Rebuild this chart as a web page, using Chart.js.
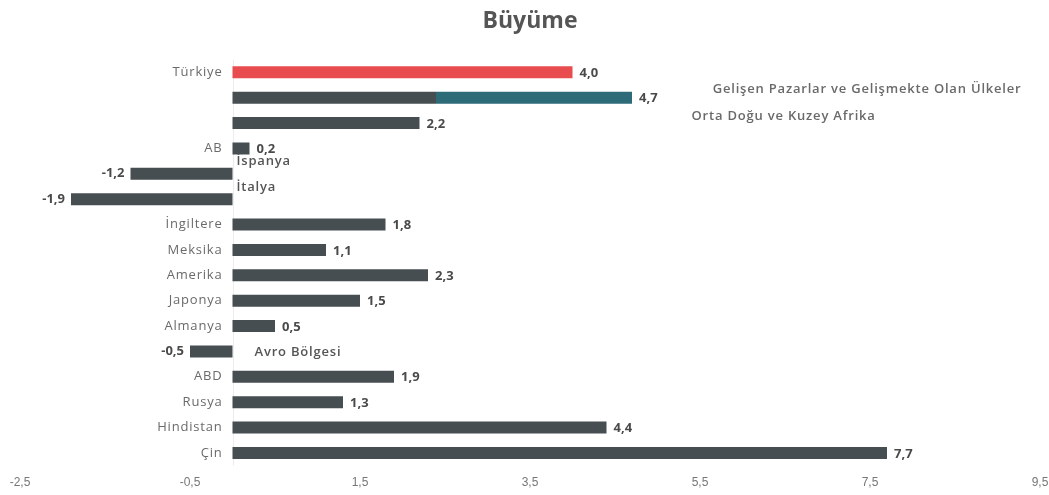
<!DOCTYPE html>
<html lang="tr">
<head>
<meta charset="utf-8">
<title>Büyüme</title>
<script src="https://cdn.jsdelivr.net/npm/chart.js@4/dist/chart.umd.min.js"></script>
<style>
  html, body { margin: 0; padding: 0; background: #fff; }
  #wrap { width: 1049px; height: 495px; }
</style>
</head>
<body>
<div id="wrap"><canvas id="graph"></canvas></div>
<script>
var countries = ["Türkiye", "Gelişen Pazarlar ve Gelişmekte Olan Ülkeler", "Orta Doğu ve Kuzey Afrika",
  "AB", "İspanya", "İtalya", "İngiltere", "Meksika", "Amerika", "Japonya", "Almanya",
  "Avro Bölgesi", "ABD", "Rusya", "Hindistan", "Çin"];
var growth = [4.0, 4.7, 2.2, 0.2, -1.2, -1.9, 1.8, 1.1, 2.3, 1.5, 0.5, -0.5, 1.9, 1.3, 4.4, 7.7];
var xTicks = [-2.5, -0.5, 1.5, 3.5, 5.5, 7.5, 9.5];
var emergingTealFrom = 2.4;

var DARK = "#474e52";
var RED = "#e84c4f";
var TEAL = "#2e6b78";
var LABEL_FONT = "'Open Sans', 'DejaVu Sans', sans-serif";

function comma(v) {
  return String(v.toFixed(1)).replace(".", ",");
}

function barColor(ctx) {
  var i = ctx.dataIndex;
  if (i === 0) return RED;
  if (i === 1) {
    var chart = ctx.chart;
    if (!chart.chartArea) return DARK;
    var x = chart.scales.x;
    var x0 = x.getPixelForValue(0);
    var x1 = x.getPixelForValue(growth[1]);
    var xs = x.getPixelForValue(emergingTealFrom);
    var g = chart.ctx.createLinearGradient(x0, 0, x1, 0);
    var s = (xs - x0) / (x1 - x0);
    g.addColorStop(0, DARK);
    g.addColorStop(s, DARK);
    g.addColorStop(s, TEAL);
    g.addColorStop(1, TEAL);
    return g;
  }
  return DARK;
}

// names next to the zero line, values at the bar ends
var barLabels = {
  id: "barLabels",
  beforeDatasetsDraw: function(chart) {
    var c = chart.ctx, a = chart.chartArea;
    var x0 = chart.scales.x.getPixelForValue(0);
    c.save();
    c.strokeStyle = "#ececec";
    c.lineWidth = 1;
    c.beginPath();
    c.moveTo(Math.round(x0) + 0.5, a.top);
    c.lineTo(Math.round(x0) + 0.5, a.bottom);
    c.stroke();
    c.restore();
  },
  afterDatasetsDraw: function(chart) {
    var c = chart.ctx;
    var xs = chart.scales.x;
    var x0 = xs.getPixelForValue(0);
    var bars = chart.getDatasetMeta(0).data;
    c.save();
    c.textBaseline = "middle";
    bars.forEach(function(bar, i) {
      var v = growth[i];
      var name = countries[i];
      var y = bar.y;

      // category name
      c.letterSpacing = "0.8px";
      c.fillStyle = "#6a6a6a";
      if (i === 1) {
        c.font = "600 13px " + LABEL_FONT;
        c.textAlign = "left";
        c.fillText(name, xs.getPixelForValue(5.65), y - 8);
      } else if (i === 2) {
        c.font = "600 13px " + LABEL_FONT;
        c.textAlign = "left";
        c.fillText(name, xs.getPixelForValue(5.4), y - 7);
      } else if (v < 0) {
        c.font = "600 13px " + LABEL_FONT;
        c.fillStyle = "#555";
        c.textAlign = "left";
        var avro = (name === "Avro Bölgesi");
        c.fillText(name, x0 + (avro ? 22 : 4), y + (avro ? 1 : -12));
      } else {
        c.font = "13px " + LABEL_FONT;
        c.textAlign = "right";
        c.fillText(name, x0 - 10, y);
      }

      // value
      c.letterSpacing = "0px";
      c.font = "bold 13px " + LABEL_FONT;
      c.fillStyle = "#4a4a4a";
      if (v >= 0) {
        c.textAlign = "left";
        c.fillText(comma(v), xs.getPixelForValue(v) + 7, y + 1);
      } else {
        c.textAlign = "right";
        c.fillText(comma(v), xs.getPixelForValue(v) - 6, y);
      }
    });
    c.restore();
  }
};

new Chart("graph", {
  type: "bar",
  data: {
    labels: countries,
    datasets: [{
      data: growth,
      backgroundColor: barColor,
      borderWidth: 0,
      barPercentage: 0.95,
      categoryPercentage: 0.5
    }]
  },
  plugins: [barLabels],
  options: {
    indexAxis: "y",
    responsive: true,
    maintainAspectRatio: false,
    animation: false,
    layout: { padding: { left: 20, right: 9, top: 8, bottom: 3 } },
    plugins: {
      legend: { display: false },
      tooltip: { enabled: false },
      title: {
        display: true,
        text: "Büyüme",
        color: "#555",
        font: { family: LABEL_FONT, size: 23, weight: "bold" },
        padding: { top: 0, bottom: 24 }
      }
    },
    scales: {
      x: {
        min: xTicks[0],
        max: xTicks[xTicks.length - 1],
        afterBuildTicks: function(axis) {
          axis.ticks = xTicks.map(function(v) { return { value: v }; });
        },
        afterFit: function(axis) {
          axis.paddingLeft = 0;
          axis.paddingRight = 0;
        },
        grid: { display: false },
        border: { display: false },
        ticks: {
          color: "#777",
          font: { family: "'Liberation Sans Narrow', 'Liberation Sans', sans-serif", size: 12 },
          padding: 2,
          maxRotation: 0,
          callback: function(v) { return comma(v); }
        }
      },
      y: {
        display: false
      }
    }
  }
});
</script>
</body>
</html>
